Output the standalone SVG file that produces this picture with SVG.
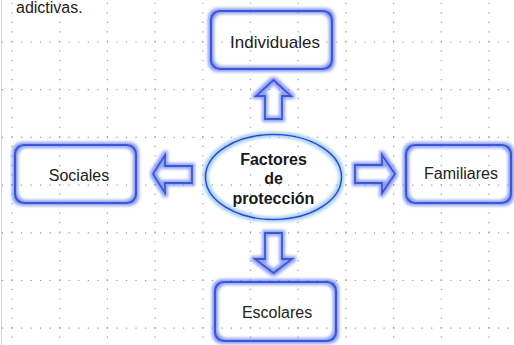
<svg xmlns="http://www.w3.org/2000/svg" width="514" height="345" viewBox="0 0 514 345">
  <defs>
    <filter id="glow" x="-30%" y="-30%" width="160%" height="160%">
      <feMorphology in="SourceAlpha" operator="dilate" radius="1.5" result="d"/>
      <feGaussianBlur in="d" stdDeviation="1.8" result="b"/>
      <feFlood flood-color="#7088ee" flood-opacity="0.8"/>
      <feComposite in2="b" operator="in" result="g"/>
      <feMerge><feMergeNode in="g"/><feMergeNode in="SourceGraphic"/></feMerge>
    </filter>
    <filter id="glowC" x="-30%" y="-30%" width="160%" height="160%">
      <feMorphology in="SourceAlpha" operator="dilate" radius="1.5" result="d"/>
      <feGaussianBlur in="d" stdDeviation="1.8" result="b"/>
      <feFlood flood-color="#9ccdf0" flood-opacity="0.9"/>
      <feComposite in2="b" operator="in" result="g"/>
      <feMerge><feMergeNode in="g"/><feMergeNode in="SourceGraphic"/></feMerge>
    </filter>
  </defs>
  <style>
    .gv { stroke: #9a9a9a; stroke-width: 1.2; stroke-dasharray: 1.2 8.34; fill: none; }
    .box { fill: none; stroke: #3a57d6; stroke-width: 2.2; filter: url(#glow); }
    .arr { fill: none; stroke: #3a57d6; stroke-width: 1.8; stroke-linejoin: miter; filter: url(#glow); }
    .lbl { font-family: "Liberation Sans", Arial, sans-serif; font-size: 16px; fill: #222; text-anchor: middle; }
    .ctr { font-family: "Liberation Sans", Arial, sans-serif; font-size: 16px; font-weight: bold; fill: #1a1a1a; text-anchor: middle; }
  </style>
  <rect width="514" height="345" fill="#ffffff"/>
  <line x1="1.5" y1="0" x2="1.5" y2="345" stroke="#d4d4d4" stroke-width="1"/>
  <g id="grid">
    <line class="gv" x1="12" y1="2.64" x2="12" y2="345"/>
    <line class="gv" x1="59.7" y1="2.64" x2="59.7" y2="345"/>
    <line class="gv" x1="107.4" y1="2.64" x2="107.4" y2="345"/>
    <line class="gv" x1="155.1" y1="2.64" x2="155.1" y2="345"/>
    <line class="gv" x1="202.8" y1="2.64" x2="202.8" y2="345"/>
    <line class="gv" x1="250.5" y1="2.64" x2="250.5" y2="345"/>
    <line class="gv" x1="298.2" y1="2.64" x2="298.2" y2="345"/>
    <line class="gv" x1="345.9" y1="2.64" x2="345.9" y2="345"/>
    <line class="gv" x1="393.6" y1="2.64" x2="393.6" y2="345"/>
    <line class="gv" x1="441.3" y1="2.64" x2="441.3" y2="345"/>
    <line class="gv" x1="489" y1="2.64" x2="489" y2="345"/>
    <line class="gv" x1="1.86" y1="42" x2="514" y2="42"/>
    <line class="gv" x1="1.86" y1="89.7" x2="514" y2="89.7"/>
    <line class="gv" x1="1.86" y1="137.4" x2="514" y2="137.4"/>
    <line class="gv" x1="1.86" y1="185.1" x2="514" y2="185.1"/>
    <line class="gv" x1="1.86" y1="232.8" x2="514" y2="232.8"/>
    <line class="gv" x1="1.86" y1="280.5" x2="514" y2="280.5"/>
    <line class="gv" x1="1.86" y1="328.2" x2="514" y2="328.2"/>
  </g>
  <text x="16" y="13" font-family="Liberation Sans, Arial, sans-serif" font-size="16" fill="#222">adictivas.</text>
  <g id="connectors">
    <path class="arr" d="M273.5,80 L291,96 L282,96 L282,119 L265,119 L265,96 L256,96 Z"/>
    <path class="arr" d="M265,233 L282,233 L282,259 L292,259 L273.5,273 L255,259 L265,259 Z"/>
    <path class="arr" d="M153,174 L165,155 L165,166 L192,166 L192,183 L165,183 L165,193 Z"/>
    <path class="arr" d="M355,165 L382,165 L382,155 L395,174 L382,193 L382,183 L355,183 Z"/>
  </g>
  <g id="center">
    <ellipse cx="273.5" cy="177" rx="68" ry="42.5" fill="none" stroke="#3546d0" stroke-width="1.6" filter="url(#glowC)"/>
    <text class="ctr" x="273.5" y="165">Factores</text>
    <text class="ctr" x="273.5" y="184">de</text>
    <text class="ctr" x="273.5" y="204">protección</text>
  </g>
  <g id="individuales">
    <rect class="box" x="211" y="11" width="121" height="58" rx="9"/>
    <text class="lbl" x="275" y="48" style="font-size:17px">Individuales</text>
  </g>
  <g id="sociales">
    <rect class="box" x="15" y="145" width="121" height="58" rx="9"/>
    <text class="lbl" x="79" y="181">Sociales</text>
  </g>
  <g id="familiares">
    <rect class="box" x="406" y="145" width="105" height="58" rx="9"/>
    <text class="lbl" x="461" y="179">Familiares</text>
  </g>
  <g id="escolares">
    <rect class="box" x="215" y="282" width="121" height="59" rx="9"/>
    <text class="lbl" x="277" y="318">Escolares</text>
  </g>
</svg>
